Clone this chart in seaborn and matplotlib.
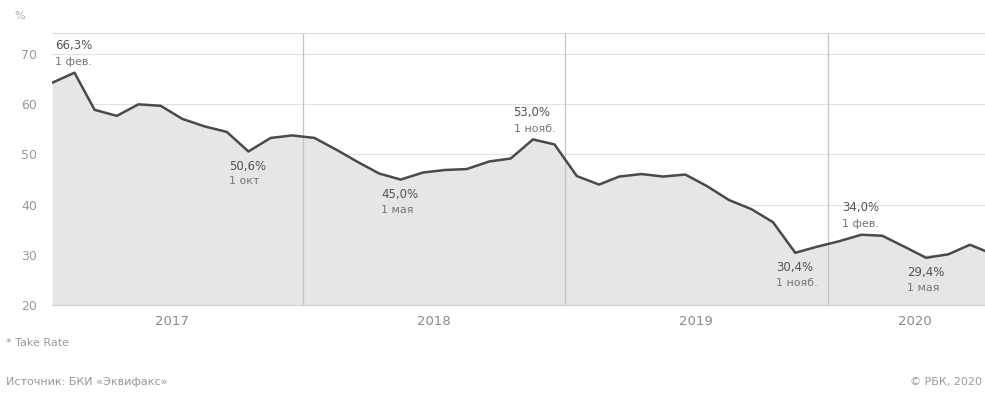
import pandas as pd
import numpy as np
import matplotlib.pyplot as plt
import seaborn as sns

# monthly take rate, Jan 2017 - Aug 2020 (last point is cut off by the frame)
months = pd.date_range("2017-01-01", periods=44, freq="MS")
take_rate = [64.3, 66.3, 58.9, 57.7, 60.0, 59.7, 57.1, 55.6, 54.5, 50.6, 53.3, 53.8,
             53.3, 50.9, 48.6, 46.2, 45.0, 46.4, 46.9, 47.1, 48.6, 49.2, 53.0, 52.0,
             45.7, 44.0, 45.6, 46.1, 45.6, 46.0, 43.7, 40.9, 39.1, 36.5, 30.4, 31.6,
             32.7, 34.0, 33.8, 31.6, 29.4, 30.1, 32.0, 30.2]

# labelled points: date, value text, date text, placed above or below the line
note_dates = ["2017-02-01", "2017-10-01", "2018-05-01", "2018-11-01",
              "2019-11-01", "2020-02-01", "2020-05-01"]
note_values = ["66,3%", "50,6%", "45,0%", "53,0%", "30,4%", "34,0%", "29,4%"]
note_days = ["1 фев.", "1 окт", "1 мая", "1 нояб.", "1 нояб.", "1 фев.", "1 мая"]
note_side = ["above", "below", "below", "above", "below", "above", "below"]

years = [2017, 2018, 2019, 2020]
year_label_dates = ["2017-06-16", "2018-06-16", "2019-06-16", "2020-04-16"]
yticks = [20, 30, 40, 50, 60, 70]

df = pd.DataFrame({"date": months, "rate": take_rate})

sns.set_style("white")
plt.rcParams["font.family"] = ["DejaVu Sans"]

fig = plt.figure(figsize=(9.85, 3.94), dpi=100)
ax = fig.add_axes([0.053, 0.226, 0.947, 0.690])

ax.fill_between(df["date"], df["rate"], 20, color="#e6e6e6", lw=0, zorder=1)
sns.lineplot(data=df, x="date", y="rate", color="#4a4a4a", lw=1.8, ax=ax, zorder=3)

ax.set_ylim(20, 74.2)
ax.set_xlim(pd.Timestamp("2017-01-01"), pd.Timestamp("2020-07-22"))

# faint horizontal grid
for v in yticks[1:]:
    ax.axhline(v, color="#e2e2e2", lw=0.8, zorder=0.5)

# year separators in the middle of December
for y in years[1:]:
    ax.axvline(pd.Timestamp(f"{y - 1}-12-16"), color="#c4c4c4", lw=0.9, zorder=2)

ax.set_yticks(yticks)
ax.set_yticklabels([str(v) for v in yticks], color="#9a9a9a", fontsize=9)
ax.tick_params(axis="y", length=5, width=0.7, color="#c8c8c8", pad=6)
ax.set_xticks([pd.Timestamp(d) for d in year_label_dates])
ax.set_xticklabels([str(y) for y in years], color="#8a8a8a", fontsize=9.5)
ax.tick_params(axis="x", length=0, pad=7)
ax.set_xlabel("")
ax.set_ylabel("")

for side in ["left", "right"]:
    ax.spines[side].set_visible(False)
ax.spines["top"].set_color("#dcdcdc")
ax.spines["top"].set_linewidth(0.8)
ax.spines["bottom"].set_color("#d0d0d0")
ax.spines["bottom"].set_linewidth(0.8)

value_of = dict(zip(df["date"], df["rate"]))
for d, val, day, side in zip(note_dates, note_values, note_days, note_side):
    t = pd.Timestamp(d)
    y = value_of[t]
    if side == "above":
        ax.annotate(val, (t, y), xytext=(-14, 15), textcoords="offset points",
                    fontsize=8.5, color="#555555", ha="left", va="bottom")
        ax.annotate(day, (t, y), xytext=(-14, 4), textcoords="offset points",
                    fontsize=8, color="#777777", ha="left", va="bottom")
    else:
        ax.annotate(val, (t, y), xytext=(-14, -6), textcoords="offset points",
                    fontsize=8.5, color="#555555", ha="left", va="top")
        ax.annotate(day, (t, y), xytext=(-14, -18), textcoords="offset points",
                    fontsize=8, color="#777777", ha="left", va="top")

fig.text(0.015, 0.96, "%", fontsize=8, color="#aaaaaa", va="center")
fig.text(0.006, 0.13, "* Take Rate", fontsize=8, color="#999999", va="center")
fig.text(0.006, 0.03, "Источник: БКИ «Эквифакс»", fontsize=8, color="#999999", va="center")
fig.text(0.997, 0.03, "© РБК, 2020", fontsize=8, color="#999999", va="center", ha="right")

fig.savefig("out.png", dpi=100)
